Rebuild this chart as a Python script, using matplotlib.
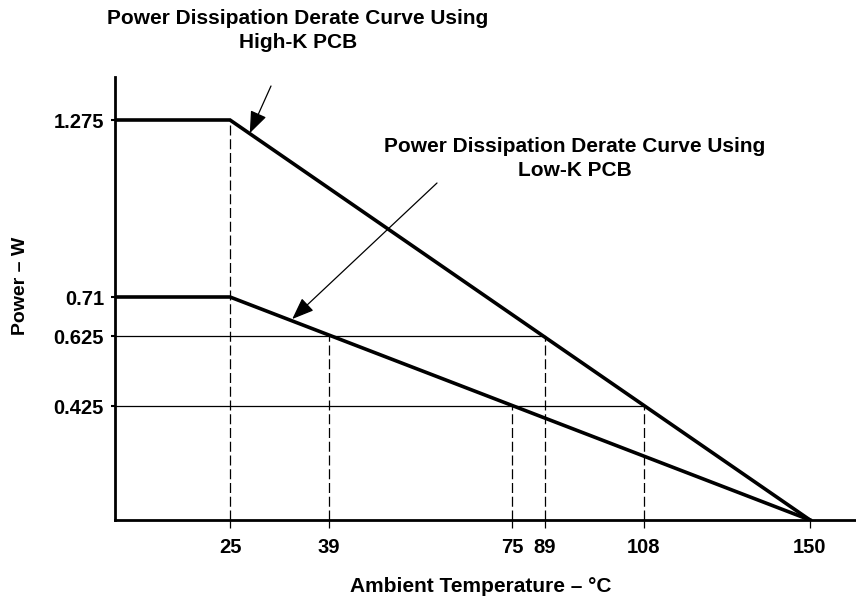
import numpy as np
import matplotlib
matplotlib.use('Agg')
import matplotlib.pyplot as plt

# Chart values
temp_ticks = [25, 39, 75, 89, 108, 150]
power_ticks = [0.425, 0.625, 0.71, 1.275]

high_k_temp = [0, 25, 150]
high_k_power = [1.275, 1.275, 0]
low_k_temp = [0, 25, 150]
low_k_power = [0.71, 0.71, 0]

# guide lines: (temperature, power level)
guide_temp = [25, 39, 75, 89, 108]
guide_power = [1.275, 0.625, 0.425, 0.625, 0.425]
# horizontal reference levels and where they stop
level_power = [0.625, 0.425]
level_temp = [89, 108]

# The drawing is schematic, so the axes are piecewise linear between tick values
x_break_vals = [0, 25, 39, 75, 89, 108, 150]
x_break_pos = [115, 230, 329, 512, 545, 644, 810]
y_break_vals = [0, 0.425, 0.625, 0.71, 1.275]
y_break_pos = [80, 194, 264, 303, 480]


def piecewise(vals, pos):
    vals = np.asarray(vals, float)
    pos = np.asarray(pos, float)

    def interp(v, a, b):
        v = np.asarray(v, float)
        out = np.interp(v, a, b)
        s_lo = (b[1] - b[0]) / (a[1] - a[0])
        s_hi = (b[-1] - b[-2]) / (a[-1] - a[-2])
        out = np.where(v < a[0], b[0] + (v - a[0]) * s_lo, out)
        out = np.where(v > a[-1], b[-1] + (v - a[-1]) * s_hi, out)
        return out

    return (lambda v: interp(v, vals, pos)), (lambda p: interp(p, pos, vals))


plt.rcParams['font.family'] = ['Liberation Sans', 'DejaVu Sans']
plt.rcParams['font.weight'] = 'bold'

W, H = 856, 600
fig = plt.figure(figsize=(W / 100, H / 100), dpi=100)
ax = fig.add_axes([115 / W, 80 / H, (W - 115) / W, (523 - 80) / H])

xf, xi = piecewise(x_break_vals, x_break_pos)
yf, yi = piecewise(y_break_vals, y_break_pos)
ax.set_xscale('function', functions=(xf, xi))
ax.set_yscale('function', functions=(yf, yi))
ax.set_xlim(0, float(xi(856)))
ax.set_ylim(0, float(yi(523)))

# curves
ax.plot(high_k_temp, high_k_power, color='black', lw=2.6, solid_joinstyle='miter', zorder=4)
ax.plot(low_k_temp, low_k_power, color='black', lw=2.6, solid_joinstyle='miter', zorder=4)

# horizontal reference lines
for p, t in zip(level_power, level_temp):
    ax.plot([0, t], [p, p], color='black', lw=0.9, zorder=3)

# dashed guides down to the axis
for t, p in zip(guide_temp, guide_power):
    ax.plot([t, t], [0, p], color='black', lw=0.9, dashes=(8, 3), zorder=2)

for s in ['top', 'right']:
    ax.spines[s].set_visible(False)
for s in ['left', 'bottom']:
    ax.spines[s].set_linewidth(2.0)

ax.set_xticks(temp_ticks)
ax.set_xticklabels([str(t) for t in temp_ticks])
ax.set_yticks(power_ticks)
ax.set_yticklabels(['0.425', '0.625', '0.71', '1.275'])
ax.tick_params(axis='x', length=6, width=0.9, pad=7, labelsize=14.5)
ax.tick_params(axis='y', length=3, width=1.5, pad=5, labelsize=14.5)

# labels
fig.text(21 / W, 1 - 286 / H, 'Power – W', rotation=90, ha='center', va='center',
         fontsize=14, fontweight='bold')
fig.text(481 / W, 1 - 587 / H, 'Ambient Temperature – °C', ha='center', va='center',
         fontsize=15, fontweight='bold')

fig.text(298 / W, 1 - 18 / H, 'Power Dissipation Derate Curve Using', ha='center',
         va='center', fontsize=15, fontweight='bold')
fig.text(298 / W, 1 - 43 / H, 'High-K PCB', ha='center', va='center',
         fontsize=15, fontweight='bold')
fig.text(575 / W, 1 - 146 / H, 'Power Dissipation Derate Curve Using', ha='center',
         va='center', fontsize=15, fontweight='bold')
fig.text(575 / W, 1 - 171 / H, 'Low-K PCB', ha='center', va='center',
         fontsize=15, fontweight='bold')

arrow = dict(arrowstyle='-|>,head_length=0.9,head_width=0.35', color='black', lw=0.9,
             shrinkA=0, shrinkB=0, mutation_scale=15)
ax.annotate('', xy=(27.8, 1.233), xycoords='data',
            xytext=(271 / W, 1 - 86 / H), textcoords='figure fraction', arrowprops=arrow)
ax.annotate('', xy=(33.8, 0.662), xycoords='data',
            xytext=(437 / W, 1 - 183 / H), textcoords='figure fraction', arrowprops=arrow)

fig.savefig('out.png', dpi=100)
